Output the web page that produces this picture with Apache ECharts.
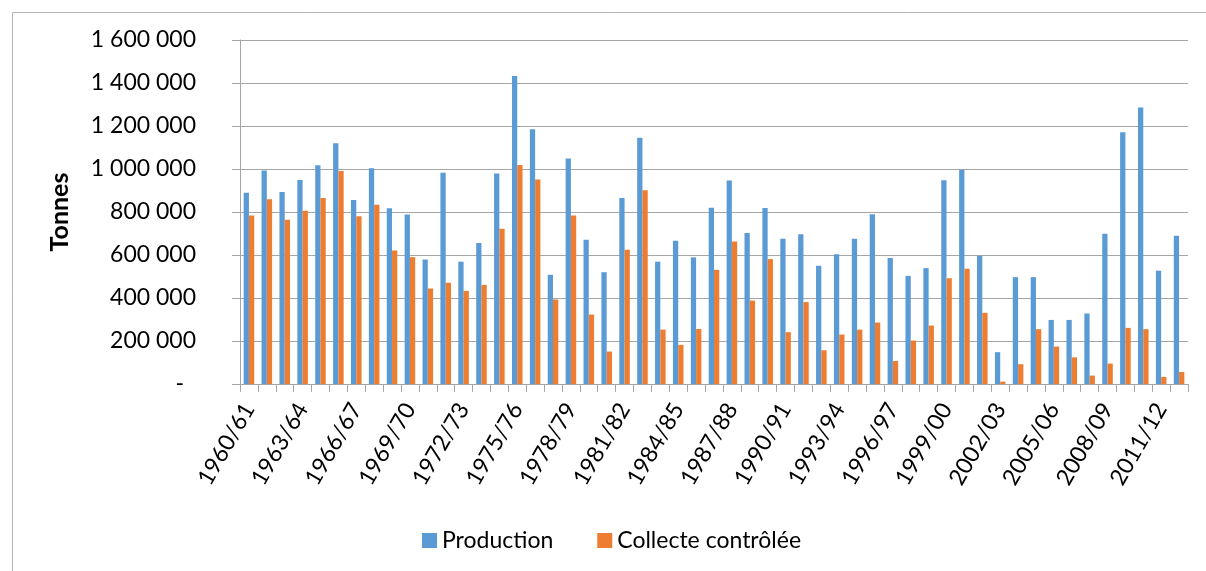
<!DOCTYPE html>
<html>
<head>
<meta charset="utf-8">
<script src="https://cdn.jsdelivr.net/npm/echarts@6/dist/echarts.min.js"></script>
<style>
  html, body { margin: 0; padding: 0; background: #fff; }
  #chart { width: 1206px; height: 571px; }
</style>
</head>
<body>
<div id="chart"></div>
<script>
// Campagnes agricoles
var campagnes = [
  '1960/61','1961/62','1962/63','1963/64','1964/65','1965/66','1966/67','1967/68','1968/69',
  '1969/70','1970/71','1971/72','1972/73','1973/74','1974/75','1975/76','1976/77','1977/78',
  '1978/79','1979/80','1980/81','1981/82','1982/83','1983/84','1984/85','1985/86','1986/87',
  '1987/88','1988/89','1989/90','1990/91','1991/92','1992/93','1993/94','1994/95','1995/96',
  '1996/97','1997/98','1998/99','1999/00','2000/01','2001/02','2002/03','2003/04','2004/05',
  '2005/06','2006/07','2007/08','2008/09','2009/10','2010/11','2011/12','2012/13'
];

// Production (tonnes)
var production = [
  890000, 993000, 893000, 949000, 1017000, 1120000, 856000, 1003000, 817000,
  788000, 579000, 983000, 569000, 656000, 979000, 1432000, 1185000, 508000,
  1049000, 671000, 520000, 865000, 1145000, 569000, 666000, 589000, 820000,
  946000, 702000, 819000, 676000, 696000, 550000, 604000, 676000, 789000,
  586000, 503000, 539000, 948000, 997000, 597000, 148000, 497000, 497000,
  298000, 298000, 328000, 699000, 1171000, 1286000, 527000, 690000
];

// Collecte contrôlée (tonnes)
var collecte = [
  784000, 859000, 764000, 806000, 865000, 991000, 780000, 834000, 621000,
  590000, 444000, 471000, 433000, 461000, 722000, 1019000, 951000, 393000,
  784000, 323000, 151000, 624000, 901000, 253000, 182000, 256000, 531000,
  663000, 388000, 581000, 241000, 381000, 157000, 230000, 253000, 286000,
  107000, 202000, 272000, 492000, 536000, 331000, 11000, 92000, 255000,
  174000, 124000, 39000, 95000, 261000, 255000, 33000, 56000
];

var FONT = 'Lato, "Open Sans", sans-serif';
var GRID = '#A6A6A6';

function fmtTonnes(v) {
  if (v === 0) return '{dash|-}';
  return String(v).replace(/\B(?=(\d{3})+(?!\d))/g, ' ');
}

var chart = echarts.init(document.getElementById('chart'), null, { renderer: 'canvas' });

chart.setOption({
  animation: false,
  backgroundColor: '#fff',
  textStyle: { fontFamily: FONT, color: '#000' },
  graphic: [{
    type: 'rect',
    left: 10, top: 10,
    shape: { width: 1260, height: 620 },
    style: { fill: 'none', stroke: '#B4B4B4', lineWidth: 1 },
    silent: true
  }],
  grid: { left: 240, right: 18, top: 40, bottom: 187 },
  legend: {
    left: 417,
    top: 524,
    itemWidth: 15,
    itemHeight: 15,
    itemGap: 44,
    icon: 'rect',
    textStyle: { fontFamily: FONT, fontSize: 23, color: '#000' },
    data: ['Production', 'Collecte contrôlée']
  },
  xAxis: {
    type: 'category',
    data: campagnes,
    boundaryGap: true,
    axisLine: { lineStyle: { color: GRID, width: 1 } },
    axisTick: { show: true, interval: 0, length: 8, lineStyle: { color: GRID } },
    axisLabel: {
      interval: 2,
      rotate: 60,
      margin: 21,
      fontFamily: FONT,
      fontSize: 23,
      color: '#000'
    }
  },
  yAxis: {
    type: 'value',
    min: 0,
    max: 1600000,
    interval: 200000,
    name: 'Tonnes',
    nameLocation: 'middle',
    nameRotate: 90,
    nameGap: 168,
    nameTextStyle: { fontFamily: FONT, fontSize: 25, fontWeight: 'bold', color: '#000' },
    axisLine: { show: true, lineStyle: { color: GRID, width: 1 } },
    axisTick: { show: true, length: 8, lineStyle: { color: GRID } },
    splitLine: { show: true, lineStyle: { color: GRID, width: 1 } },
    axisLabel: {
      margin: 44,
      fontFamily: FONT,
      fontSize: 23,
      color: '#000',
      formatter: fmtTonnes,
      rich: { dash: { fontFamily: FONT, fontSize: 23, color: '#000', padding: [0, 12, 0, 0] } }
    }
  },
  series: [
    {
      name: 'Production',
      type: 'bar',
      data: production,
      itemStyle: { color: '#5B9BD5' },
      barGap: '0%',
      barCategoryGap: '41%'
    },
    {
      name: 'Collecte contrôlée',
      type: 'bar',
      data: collecte,
      itemStyle: { color: '#ED7D31' },
      barGap: '0%',
      barCategoryGap: '41%'
    }
  ]
});
</script>
</body>
</html>
